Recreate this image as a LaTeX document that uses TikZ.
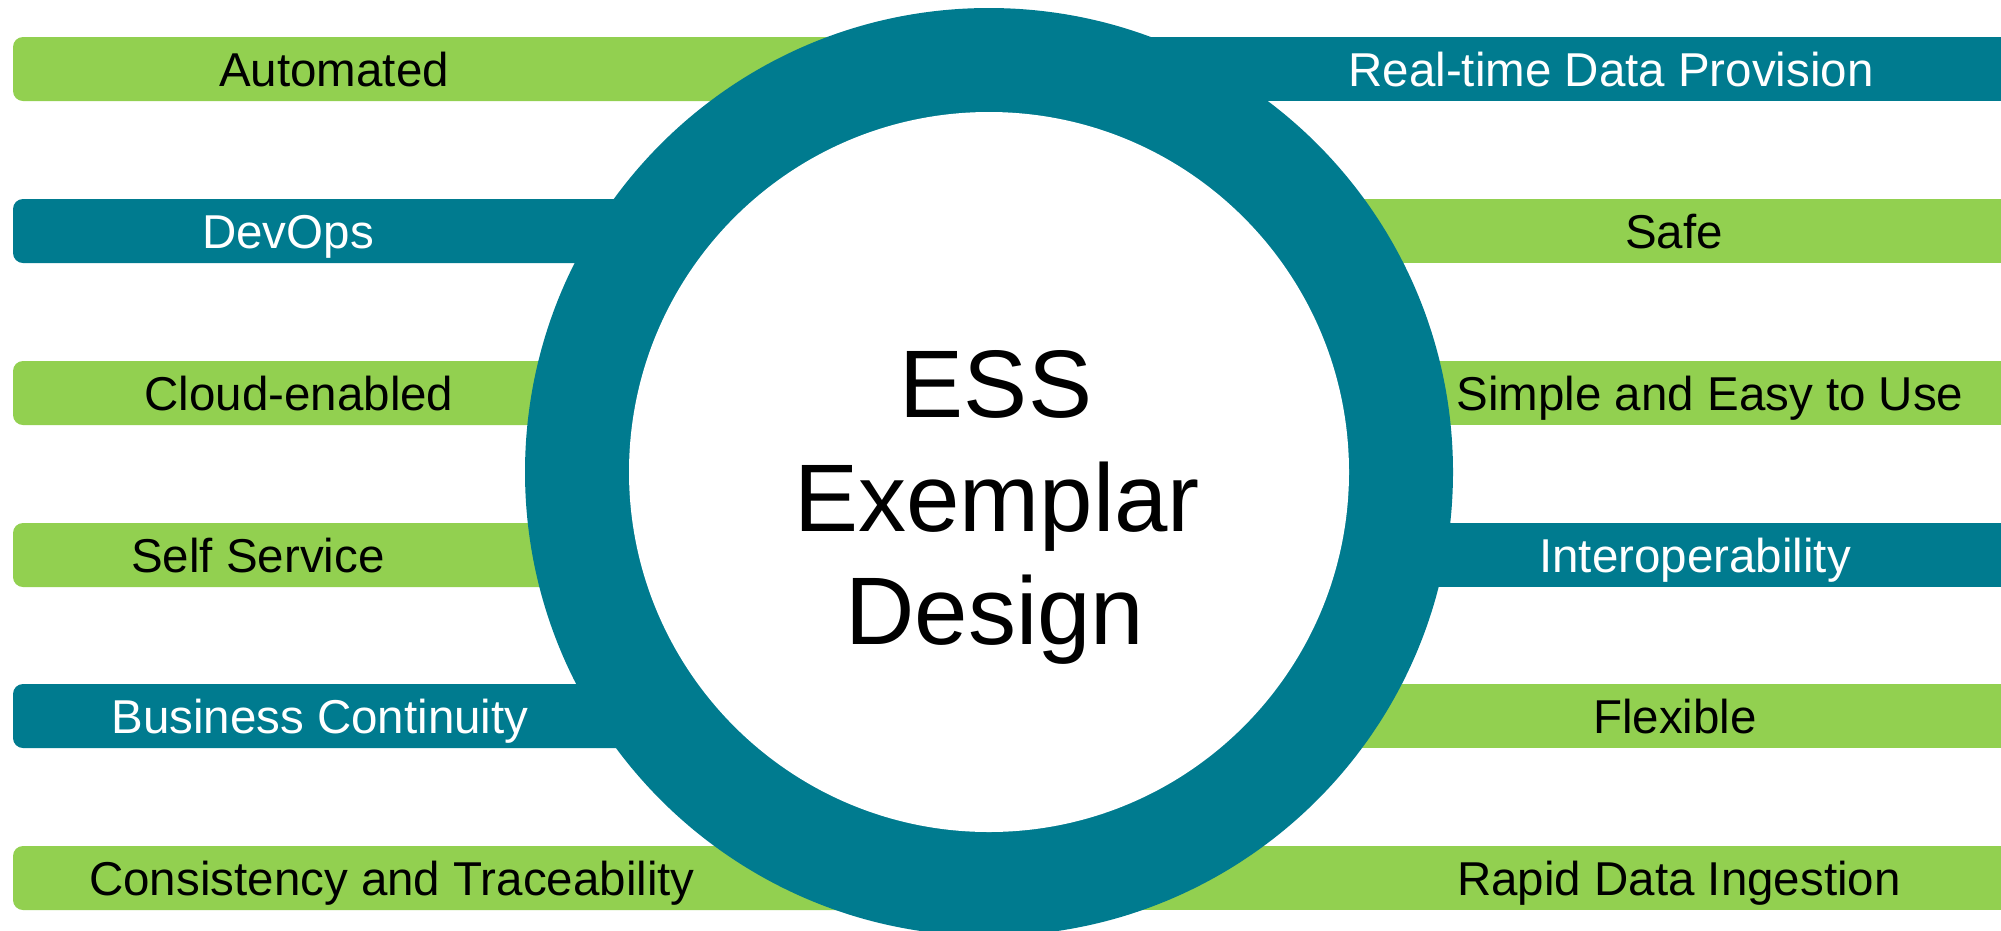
\documentclass[tikz,border=0pt]{standalone}
\usepackage{fontspec}
\setmainfont{Liberation Sans}
\definecolor{esgreen}{RGB}{146,208,80}
\definecolor{esteal}{RGB}{0,123,143}
\begin{document}
\begin{tikzpicture}[x=1pt,y=-1pt,
  greenbar/.style={fill=esgreen},
  tealbar/.style={fill=esteal},
  lbl/.style={anchor=base, inner sep=0pt, font=\fontsize{47.5}{57}\selectfont},
  ondark/.style={lbl, text=white},
  onlight/.style={lbl, text=black},
  title/.style={anchor=base, inner sep=0pt, font=\fontsize{96}{114}\selectfont}]
\useasboundingbox (0,0) rectangle (2001,930);
\clip (0,0) rectangle (2001,930);

% left-hand bars (rounded outer ends)
\path[greenbar, rounded corners=10pt] (13,37)  rectangle (990,101);
\path[tealbar,  rounded corners=10pt] (13,199) rectangle (990,263);
\path[greenbar, rounded corners=10pt] (13,361) rectangle (990,425);
\path[greenbar, rounded corners=10pt] (13,523) rectangle (990,587);
\path[tealbar,  rounded corners=10pt] (13,684) rectangle (990,748);
\path[greenbar, rounded corners=10pt] (13,846) rectangle (990,910);

% right-hand bars (run off the edge)
\path[tealbar]  (990,37)  rectangle (2001,101);
\path[greenbar] (990,199) rectangle (2001,263);
\path[greenbar] (990,361) rectangle (2001,425);
\path[tealbar]  (990,523) rectangle (2001,587);
\path[greenbar] (990,684) rectangle (2001,748);
\path[greenbar] (990,846) rectangle (2001,910);

% central ring
\fill[esteal] (989,472) circle[radius=464];
\fill[white]  (989,472) circle[radius=360];

% left labels
\node[onlight] (automated)   at (334,86)  {Automated};
\node[ondark]  (devops)      at (288,248) {DevOps};
\node[onlight] (cloud)       at (299,410) {Cloud-enabled};
\node[onlight] (selfservice) at (258,572) {Self Service};
\node[ondark]  (continuity)  at (320,733) {Business Continuity};
\node[onlight] (consistency) at (392,895) {Consistency and Traceability};

% right labels
\node[ondark]  (realtime)    at (1611,86)  {Real-time Data Provision};
\node[onlight] (safe)        at (1674,248) {Safe};
\node[onlight] (simple)      at (1710,410) {Simple and Easy to Use};
\node[ondark]  (interop)     at (1695,572) {Interoperability};
\node[onlight] (flexible)    at (1675,733) {Flexible};
\node[onlight] (rapid)       at (1679,895) {Rapid Data Ingestion};

% centre title
\node[title] (ess)      at (996,417) {ESS};
\node[title] (exemplar) at (997,531) {Exemplar};
\node[title] (design)   at (995,644) {Design};
\end{tikzpicture}
\end{document}
